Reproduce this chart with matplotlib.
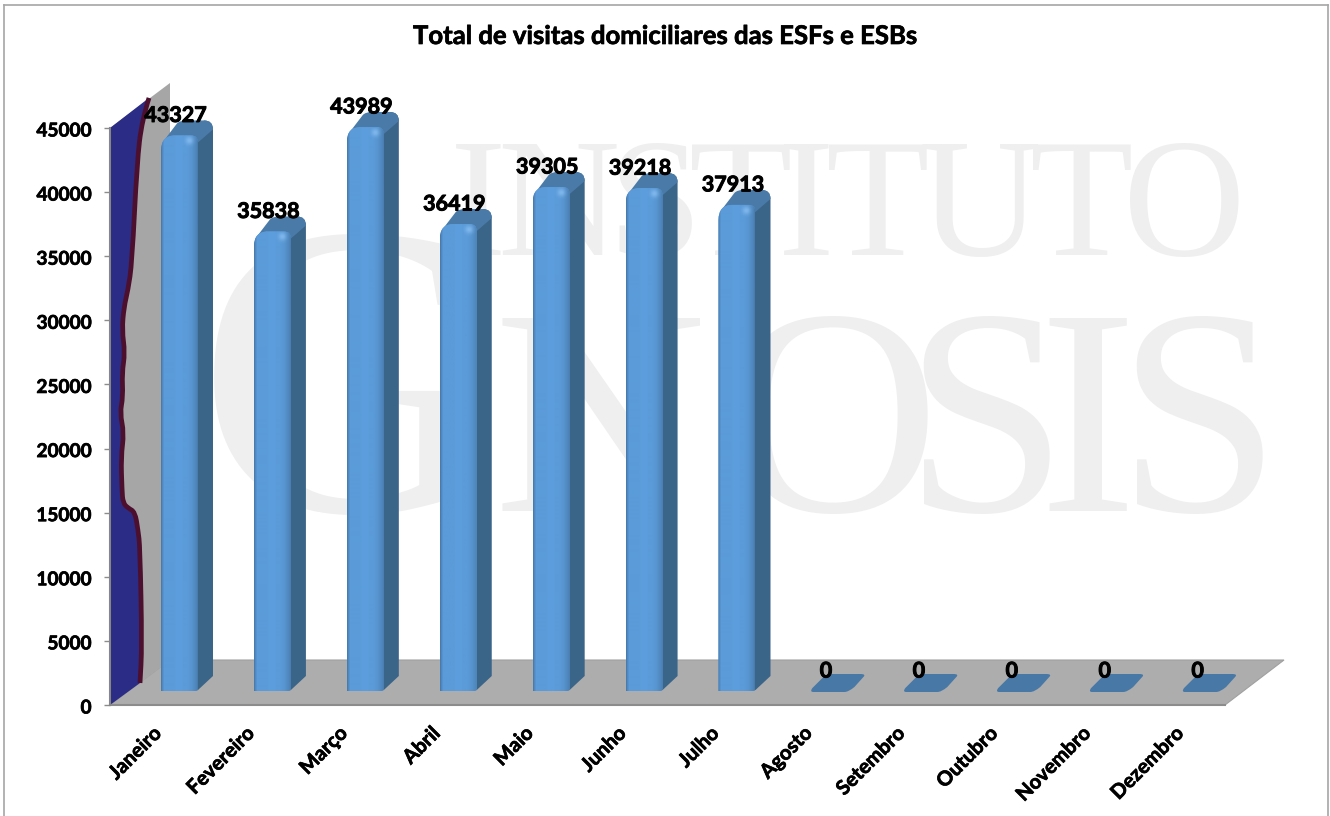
import numpy as np
import matplotlib
matplotlib.use("Agg")
import matplotlib.pyplot as plt
import matplotlib.patheffects as pe
from matplotlib.lines import Line2D
from matplotlib.patches import PathPatch, Polygon
from matplotlib.path import Path
from matplotlib.transforms import ScaledTranslation

plt.rcParams["font.family"] = ["Lato", "DejaVu Sans"]

months = ["Janeiro", "Fevereiro", "Março", "Abril", "Maio", "Junho", "Julho",
          "Agosto", "Setembro", "Outubro", "Novembro", "Dezembro"]
visitas = [43327, 35838, 43989, 36419, 39305, 39218, 37913, 0, 0, 0, 0, 0]
y_ticks = [0, 5000, 10000, 15000, 20000, 25000, 30000, 35000, 40000, 45000]

# odd blue shape stuck on the side wall (depth in px, level on the y scale)
wall_depth = [39, 32, 27, 22, 18, 14, 12, 15, 12, 13, 10, 14, 11, 12, 13, 18, 25, 28, 30, 32, 30]
wall_level = [47346, 45630, 42276, 34476, 32370, 31044, 29250, 27456, 25896, 24024, 22776,
              21216, 19344, 16770, 15756, 15366, 15054, 13650, 12324, 4524, 1716]

wm_top = list("INSTITUTO")
wm_top_x = [478, 558, 655, 741, 806, 878, 980, 1082, 1184]
wm_low = list("GNOSIS")
wm_low_x = [347, 600, 833, 985, 1087, 1198]

W, H = 1330, 816
fig = plt.figure(figsize=(W / 100, H / 100), dpi=100)
left, right, top, bottom = 110, 1225, 128, 705
ax = fig.add_axes([left / W, 1 - bottom / H, (right - left) / W, (bottom - top) / H])
ax.set_xlim(0, 12)
ax.set_ylim(0, 45000)
ax.patch.set_alpha(0)

px_x = 12 / (right - left)
px_y = 45000 / (bottom - top)


def fx(x):
    return x / W


def fy(y):
    return 1 - y / H


def smooth(points):
    # quadratic segments through the midpoints, keeps the wall line from looking jagged
    verts = [points[0]]
    codes = [Path.MOVETO]
    for a, b in zip(points[1:-1], points[2:]):
        verts += [a, ((a[0] + b[0]) / 2, (a[1] + b[1]) / 2)]
        codes += [Path.CURVE3, Path.CURVE3]
    verts.append(points[-1])
    codes.append(Path.LINETO)
    return verts, codes


# frame
for xs, ys in [((4, 4), (816, 5)), ((4, 1328), (5, 5)), ((1328, 1328), (5, 816))]:
    fig.add_artist(Line2D([fx(v) for v in xs], [fy(v) for v in ys], color="#a6a6a6", lw=1.2))

# watermark
for ch, x in zip(wm_top, wm_top_x):
    fig.text(fx(x), fy(255), ch, family="Liberation Serif", fontsize=122, color="#efefef",
             ha="center", va="baseline", zorder=-5)
for ch, x in zip(wm_low, wm_low_x):
    size = 300 if ch == "G" else 212
    fig.text(fx(x), fy(511), ch, family="Liberation Serif", fontsize=size, color="#efefef",
             ha="center", va="baseline", zorder=-5)

# floor and side wall
dx_w = 60 * px_x
dy_w = 45 * px_y
ax.add_patch(Polygon([(0, 0), (12, 0), (12 + 59 * px_x, dy_w), (dx_w, dy_w)], closed=True,
                     fc="#adadad", ec="#a0a0a0", lw=0.8, clip_on=False, zorder=1))
ax.add_patch(Polygon([(0, 0), (0, 45000), (dx_w, 45000 + dy_w), (dx_w, dy_w)], closed=True,
                     fc="#a6a6a6", ec="none", clip_on=False, zorder=1.2))
curve = [(d * px_x, v) for d, v in zip(wall_depth, wall_level)]
v_c, c_c = smooth(curve)
ax.add_patch(PathPatch(Path([(0, 45000)] + v_c + [(0, 0), (0, 45000)],
                            [Path.MOVETO, Path.LINETO] + c_c[1:] + [Path.LINETO, Path.LINETO]),
                       fc="#2a2c85", ec="none", clip_on=False, zorder=1.3))
ax.add_patch(PathPatch(Path(v_c, c_c), fc="none", ec="#4c0f2e", lw=3.4, clip_on=False,
                       capstyle="butt", zorder=1.4))

# bars: front faces sit 14 px up the floor, with a 15 px deep side
bar_w = 37 * px_x
off_x = 51 * px_x
base = 14 * px_y
dep_x = 15 * px_x
dep_y = 15 * px_y
r_x = 14 * px_x
r_y = 15 * px_y
grad = np.array([0.80, 0.88, 0.95, 1, 1, 1, 1, 1, 1, 1, 1, 1, 1, 1, 1.01, 1.02, 1.02, 1.02, 1.02,
                 1.02, 1.02, 1.01, 1, 1, 1, 1, 1, 0.99, 0.98, 0.97, 0.96, 0.94, 0.92, 0.90, 0.88,
                 0.85, 0.80])
front_rgb = np.array([0x5b, 0x9b, 0xd9]) / 255
grad_img = np.clip(grad[None, :, None] * front_rgb, 0, 1)
x_pos = np.arange(12) + off_x
bold_val = [pe.withStroke(linewidth=0.7, foreground="black")]
bold_tick = [pe.withStroke(linewidth=0.5, foreground="black")]

bars = ax.bar(x_pos, visitas, bar_w, bottom=base, align="edge", color="#5b9bd9", zorder=3)
for i, (rect, val) in enumerate(zip(bars, visitas)):
    x0, x1 = rect.get_x(), rect.get_x() + bar_w
    yb = base
    yt = base + val
    if val == 0:
        # empty month, just a flat rounded plate on the floor
        rect.set_visible(False)
        plate = [(2, -1), (33, -1), (37, -1), (43, 4), (52, 14), (55, 17), (49, 17), (19, 17), (15, 17), (10, 12),
                 (1, 3), (-2, -1), (2, -1)]
        verts = [(x0 + a * px_x, yb + b * px_y) for a, b in plate]
        ax.add_patch(PathPatch(Path(verts, [1, 2, 3, 3, 2, 3, 3, 2, 3, 3, 2, 3, 3]),
                               fc="#4878a5", ec="none", zorder=3, clip_on=False))
    else:
        # side
        side = Path([(x1 - 4 * px_x, yb), (x1, yb + 1 * px_y), (x1 + dep_x, yb + dep_y), (x1 + dep_x, yt + dep_y - 9 * px_y),
                     (x1 + dep_x, yt + dep_y), (x1 + dep_x - 9 * px_x, yt + dep_y), (x1 - 7 * px_x, yt), (x1 - 4 * px_x, yb)],
                    [1, 2, 2, 2, 3, 3, 2, 2])
        ax.add_patch(PathPatch(side, fc="#3a6589", ec="none", zorder=2.5, clip_on=False))
        # top
        top_face = Path([(x0 + 3 * px_x, yt - 5 * px_y), (x0 + dep_x + 1 * px_x, yt + dep_y - 3 * px_y),
                         (x0 + dep_x + 4 * px_x, yt + dep_y), (x0 + dep_x + 10 * px_x, yt + dep_y),
                         (x1 + dep_x - 9 * px_x, yt + dep_y), (x1 + dep_x, yt + dep_y), (x1 + dep_x, yt + dep_y - 9 * px_y),
                         (x1, yt - 7 * px_y), (x0 + 3 * px_x, yt - 5 * px_y)],
                        [1, 2, 3, 3, 2, 3, 3, 2, 2])
        ax.add_patch(PathPatch(top_face, fc="#4a7ba8", ec="none", zorder=2.6, clip_on=False))
        # front with rounded top, shaded across
        front_path = Path([(x0, yb), (x0, yt - r_y), (x0, yt), (x0 + r_x, yt), (x1 - 7 * px_x, yt), (x1, yt),
                           (x1, yt - 7 * px_y), (x1, yb + 2 * px_y), (x1, yb), (x1 - 4 * px_x, yb), (x0, yb)],
                          [1, 2, 3, 3, 2, 3, 3, 2, 3, 3, 2])
        clip = PathPatch(front_path, transform=ax.transData, fc="none", ec="none", clip_on=False)
        ax.add_patch(clip)
        rect.set_clip_path(clip)
        rect.set_clip_box(None)
        im = ax.imshow(grad_img, extent=(x0, x1, yb, yt), aspect="auto", zorder=3.1,
                       interpolation="bilinear")
        im.set_clip_path(clip)
        im.set_clip_box(None)
        # small shine under the top edge
        yy, xx = np.mgrid[0:24, 0:37]
        shine = np.zeros((24, 37, 4))
        shine[..., :3] = [0.62, 0.82, 1.0]
        shine[..., 3] = 0.55 * np.exp(-(((xx - 28) / 4.0) ** 2 + ((yy - 5) / 4.0) ** 2))
        im2 = ax.imshow(shine, extent=(x0, x1, yt - 24 * px_y, yt), aspect="auto", zorder=3.2,
                        interpolation="bilinear")
        im2.set_clip_path(clip)
        im2.set_clip_box(None)
    ax.text(x0 + bar_w / 2 - 4 * px_x, yt + 20 * px_y, str(val), ha="center", va="center",
            fontsize=15.5, fontweight="bold", color="black", zorder=5, clip_on=False,
            path_effects=bold_val)

ax.set_xlim(0, 12)
ax.set_ylim(0, 45000)

ax.set_yticks(y_ticks)
ax.set_xticks(np.arange(12) + 0.445)
ax.set_xticklabels(months, rotation=45, ha="right", va="top", rotation_mode="anchor")
ax.tick_params(axis="y", length=4.3, width=1, color="#8c8c8c", pad=9, labelsize=13.7)
ax.tick_params(axis="x", length=0, pad=13, labelsize=14.5)
for lab in ax.get_xticklabels() + ax.get_yticklabels():
    lab.set_fontweight("bold")
    lab.set_path_effects(bold_tick)
nudge = ScaledTranslation(0, -1.5 / 100, fig.dpi_scale_trans)
for lab in ax.get_yticklabels():
    lab.set_transform(lab.get_transform() + nudge)
for s in ["top", "right"]:
    ax.spines[s].set_visible(False)
ax.spines["left"].set_color("#868686")
ax.spines["left"].set_linewidth(1.5)
ax.spines["bottom"].set_color("#8c8c8c")
ax.spines["bottom"].set_linewidth(1.5)
ax.spines["left"].set_zorder(6)

fig.text(fx(666), fy(36), "Total de visitas domiciliares das ESFs e ESBs", ha="center", va="center",
         fontsize=18.5, fontweight="bold", color="black", path_effects=bold_tick)

fig.savefig("out.png", dpi=100)
